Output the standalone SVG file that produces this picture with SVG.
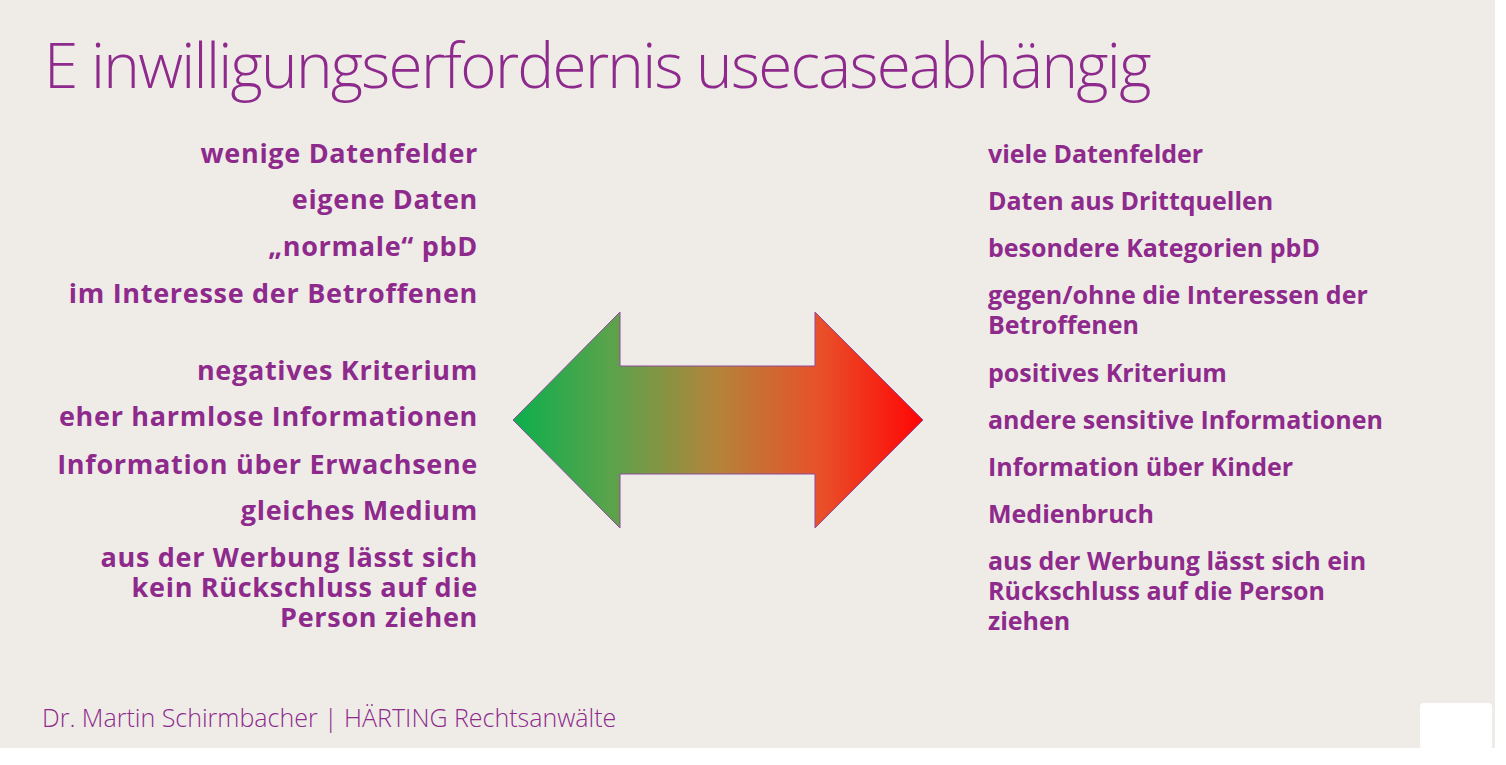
<svg xmlns="http://www.w3.org/2000/svg" width="1506" height="765" viewBox="0 0 1506 765">
<defs>
<linearGradient id="g" x1="513" y1="0" x2="923" y2="0" gradientUnits="userSpaceOnUse">
<stop offset="0" stop-color="#0CAF4C"/>
<stop offset="0.25" stop-color="#5EA24B"/>
<stop offset="0.5" stop-color="#B4833A"/>
<stop offset="0.75" stop-color="#E8502A"/>
<stop offset="1" stop-color="#FF0505"/>
</linearGradient>
<style>
.t{fill:#8E2A8C;font-family:"Open Sans","Liberation Sans",sans-serif;font-weight:700;font-size:25px}
.l{text-anchor:end;font-size:27px;letter-spacing:0.7px}
.title{fill:#8E2A8C;font-family:"Open Sans","Liberation Sans",sans-serif;font-weight:300;font-size:62px;letter-spacing:-1.7px}
.foot{fill:#8E2A8C;font-family:"Open Sans","Liberation Sans",sans-serif;font-weight:300;font-size:25px}
</style>
</defs>
<rect x="0" y="0" width="1506" height="765" fill="#FFFFFF"/>
<rect x="0" y="0" width="1495" height="748" fill="#EFECE8"/>
<rect x="1420" y="703" width="72" height="46" rx="4" fill="#FFFFFF"/>
<g id="title"><text class="title" x="44" y="88">E inwilligungserfordernis usecaseabhängig</text></g>
<g id="arrow">
<polygon points="513,420 620,312 620,366 815,366 815,312 923,420 815,528 815,474 620,474 620,528" fill="url(#g)" stroke="#8E4A9C" stroke-width="1"/>
</g>
<g id="left">
<text class="t l" x="478" y="163">wenige Datenfelder</text>
<text class="t l" x="478" y="209">eigene Daten</text>
<text class="t l" x="478" y="256">„normale“ pbD</text>
<text class="t l" x="478" y="303">im Interesse der Betroffenen</text>
<text class="t l" x="478" y="380">negatives Kriterium</text>
<text class="t l" x="478" y="426">eher harmlose Informationen</text>
<text class="t l" x="478" y="474">Information über Erwachsene</text>
<text class="t l" x="478" y="520">gleiches Medium</text>
<text class="t l" x="478" y="567">aus der Werbung lässt sich</text>
<text class="t l" x="478" y="597">kein Rückschluss auf die</text>
<text class="t l" x="478" y="627">Person ziehen</text>
</g>
<g id="right">
<text class="t" x="988" y="163">viele Datenfelder</text>
<text class="t" x="988" y="210">Daten aus Drittquellen</text>
<text class="t" x="988" y="257">besondere Kategorien pbD</text>
<text class="t" x="988" y="304">gegen/ohne die Interessen der</text>
<text class="t" x="988" y="334">Betroffenen</text>
<text class="t" x="988" y="382">positives Kriterium</text>
<text class="t" x="988" y="429">andere sensitive Informationen</text>
<text class="t" x="988" y="476">Information über Kinder</text>
<text class="t" x="988" y="523">Medienbruch</text>
<text class="t" x="988" y="570">aus der Werbung lässt sich ein</text>
<text class="t" x="988" y="600">Rückschluss auf die Person</text>
<text class="t" x="988" y="630">ziehen</text>
</g>
<g id="footer"><text class="foot" x="42" y="727">Dr. Martin Schirmbacher | HÄRTING Rechtsanwälte</text></g>
</svg>
